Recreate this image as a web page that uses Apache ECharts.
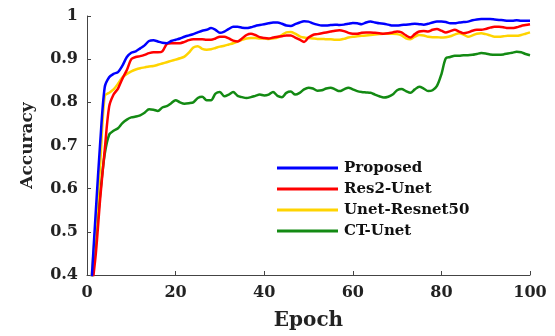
<!DOCTYPE html>
<html>
<head>
<meta charset="utf-8">
<script src="https://cdn.jsdelivr.net/npm/echarts@6/dist/echarts.min.js"></script>
<style>html,body{margin:0;padding:0;background:#fff;}#c{width:555px;height:336px;}</style>
</head>
<body>
<div id="c"></div>
<script>
const seriesNames = ['Proposed', 'Res2-Unet', 'Unet-Resnet50', 'CT-Unet'];
const xTicks = [0, 20, 40, 60, 80, 100];
const yTicks = [0.4, 0.5, 0.6, 0.7, 0.8, 0.9, 1];

const proposed = [0.38,0.55,0.71,0.835,0.858,0.866,0.870,0.885,0.905,0.915,
0.918,0.925,0.932,0.942,0.944,0.941,0.938,0.937,0.942,0.945,
0.948,0.952,0.955,0.958,0.962,0.966,0.968,0.972,0.968,0.961,
0.964,0.970,0.975,0.975,0.973,0.972,0.974,0.977,0.979,0.981,
0.983,0.985,0.985,0.982,0.978,0.977,0.981,0.985,0.988,0.987,
0.983,0.980,0.978,0.978,0.979,0.980,0.979,0.980,0.982,0.984,
0.983,0.981,0.985,0.987,0.985,0.983,0.982,0.980,0.978,0.978,
0.979,0.980,0.981,0.982,0.981,0.980,0.982,0.985,0.987,0.987,
0.986,0.983,0.983,0.985,0.986,0.987,0.990,0.992,0.993,0.993,
0.993,0.992,0.991,0.990,0.989,0.989,0.990,0.989,0.989,0.989];

const res2unet = [0.36,0.45,0.58,0.69,0.79,0.818,0.832,0.855,0.875,0.900,
0.905,0.907,0.910,0.914,0.916,0.916,0.918,0.935,0.937,0.937,
0.937,0.940,0.944,0.946,0.946,0.946,0.945,0.945,0.948,0.952,
0.952,0.948,0.943,0.941,0.948,0.956,0.959,0.956,0.951,0.949,
0.948,0.950,0.952,0.953,0.955,0.955,0.950,0.945,0.940,0.950,
0.956,0.958,0.960,0.962,0.964,0.966,0.967,0.965,0.961,0.959,
0.959,0.961,0.962,0.962,0.961,0.960,0.959,0.960,0.962,0.964,
0.962,0.955,0.950,0.958,0.964,0.965,0.964,0.968,0.970,0.966,
0.962,0.965,0.968,0.964,0.960,0.962,0.966,0.968,0.968,0.970,
0.973,0.975,0.975,0.974,0.972,0.972,0.974,0.977,0.979,0.981];

const unetResnet50 = [0.39,0.52,0.66,0.815,0.822,0.830,0.843,0.858,0.866,0.872,
0.876,0.879,0.881,0.883,0.884,0.887,0.890,0.893,0.896,0.899,
0.902,0.906,0.915,0.927,0.930,0.924,0.922,0.923,0.926,0.929,
0.931,0.934,0.937,0.941,0.945,0.948,0.949,0.949,0.948,0.948,
0.947,0.948,0.950,0.956,0.962,0.963,0.959,0.953,0.950,0.949,
0.948,0.947,0.947,0.946,0.946,0.945,0.945,0.947,0.950,0.952,
0.953,0.954,0.955,0.956,0.957,0.958,0.959,0.959,0.959,0.958,
0.955,0.948,0.946,0.952,0.956,0.955,0.952,0.951,0.951,0.950,
0.951,0.953,0.957,0.960,0.957,0.952,0.955,0.959,0.960,0.958,
0.955,0.952,0.952,0.953,0.954,0.954,0.954,0.956,0.959,0.962];

const ctUnet = [0.37,0.48,0.59,0.68,0.725,0.734,0.740,0.752,0.760,0.765,
0.767,0.770,0.776,0.784,0.783,0.780,0.788,0.791,0.798,0.805,
0.800,0.797,0.798,0.800,0.810,0.813,0.805,0.805,0.820,0.824,
0.814,0.818,0.824,0.815,0.812,0.810,0.812,0.815,0.818,0.816,
0.818,0.824,0.815,0.812,0.822,0.825,0.818,0.822,0.830,0.834,
0.832,0.827,0.828,0.832,0.834,0.830,0.826,0.830,0.834,0.830,
0.826,0.824,0.823,0.822,0.818,0.814,0.811,0.813,0.818,0.828,
0.831,0.826,0.822,0.830,0.836,0.832,0.826,0.828,0.838,0.865,
0.902,0.905,0.908,0.908,0.909,0.909,0.910,0.912,0.914,0.913,
0.911,0.910,0.910,0.911,0.913,0.915,0.917,0.916,0.912,0.909];

const epochs = proposed.map((_, i) => i + 1);
const values = [proposed, res2unet, unetResnet50, ctUnet];
const colors = ['#0000ff', '#ff0000', '#ffd400', '#138a13'];

const font = 'DejaVu Serif';
const chart = echarts.init(document.getElementById('c'));
chart.setOption({
  backgroundColor: '#fff',
  animation: false,
  grid: {left: 87, right: 25, top: 16, bottom: 59, containLabel: false},
  legend: {
    orient: 'vertical', left: 277, top: 160, padding: 0,
    icon: 'rect', itemWidth: 61, itemHeight: 3, itemGap: 5,
    textStyle: {fontFamily: font, fontWeight: 'bold', fontSize: 15, lineHeight: 16, color: '#111', padding: [0,0,0,1]},
    data: seriesNames
  },
  xAxis: {
    type: 'value', min: 0, max: 100, interval: 20,
    name: 'Epoch', nameLocation: 'middle', nameGap: 36,
    nameTextStyle: {fontFamily: font, fontWeight: 'bold', fontSize: 20, color: '#222'},
    axisLine: {show: true, lineStyle: {color: '#444', width: 1}},
    axisTick: {show: true, inside: true, length: 4, lineStyle: {color: '#444'}},
    axisLabel: {fontFamily: font, fontWeight: 'bold', fontSize: 16, color: '#222', margin: 10,
      formatter: v => xTicks.includes(v) ? String(v) : ''},
    splitLine: {show: false}
  },
  yAxis: {
    type: 'value', min: 0.4, max: 1, interval: 0.1,
    name: 'Accuracy', nameLocation: 'middle', nameGap: 51,
    nameTextStyle: {fontFamily: font, fontWeight: 'bold', fontSize: 17, color: '#222'},
    axisLine: {show: true, lineStyle: {color: '#444', width: 1}},
    axisTick: {show: true, inside: true, length: 4, lineStyle: {color: '#444'}},
    axisLabel: {fontFamily: font, fontWeight: 'bold', fontSize: 16, color: '#222', margin: 9,
      formatter: v => { const t = yTicks.find(y => Math.abs(y - v) < 1e-6); return t === undefined ? '' : String(t); }},
    splitLine: {show: false}
  },
  series: seriesNames.map((n, k) => ({
    name: n, type: 'line', symbol: 'none', smooth: 0.3, clip: true,
    data: epochs.map((e, i) => [e, values[k][i]]),
    lineStyle: {color: colors[k], width: 2.5},
    itemStyle: {color: colors[k]},
    z: 10 - k
  }))
});
</script>
</body>
</html>
